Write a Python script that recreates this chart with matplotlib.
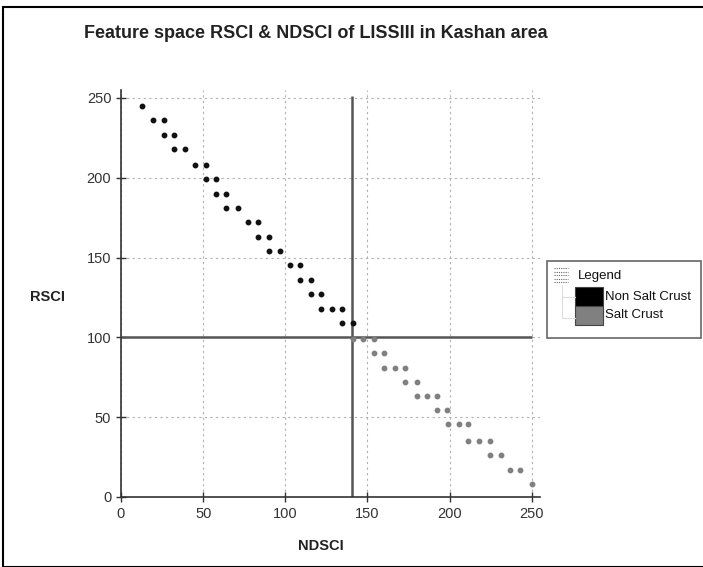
import matplotlib.pyplot as plt
from matplotlib.patches import Rectangle
from matplotlib.lines import Line2D

# non salt crust points (NDSCI, RSCI)
ns_ndsci = [13, 19.5, 26, 26, 32, 32, 39, 45, 52, 52, 58, 58, 64, 64, 71,
            77, 83.5, 83.5, 90, 90, 96.5, 103, 109, 109, 115.5, 115.5, 122,
            122, 128.5, 134.5, 134.5, 141]
ns_rsci = [245, 236, 236, 227, 227, 218, 218, 208, 208, 199, 199, 190, 190, 181, 181,
           172, 172, 163, 163, 154, 154, 145, 145, 136, 136, 127, 127,
           118, 118, 118, 109, 109]

# salt crust points
sc_ndsci = [141, 147.5, 154, 154, 160, 160, 166.5, 173, 173, 180, 180, 186, 192.5,
            192.5, 198.5, 199, 205.5, 211.5, 211.5, 218, 224.5, 224.5, 231,
            237, 243, 250]
sc_rsci = [99, 99, 99, 90, 90, 81, 81, 81, 72, 72, 63, 63, 63,
           54.5, 54.5, 46, 46, 46, 35, 35, 35, 26, 26,
           17, 17, 8]

ndsci_cut = 140.5
rsci_cut = 100
ticks = [0, 50, 100, 150, 200, 250]
legend_labels = ['Non Salt Crust', 'Salt Crust']
legend_colors = ['#000000', '#808080']

W, H = 703, 567

def px(x, y):
    # pixel position (from top left) -> figure fraction
    return x / W, 1 - y / H

plt.rcParams['font.family'] = ['Liberation Sans', 'DejaVu Sans']

fig = plt.figure(figsize=(W / 100, H / 100), dpi=100)
fig.patches.append(Rectangle(px(3, 567), 1.0, 1 - 7 / H, transform=fig.transFigure,
                             fill=False, edgecolor='black', linewidth=1.5))

ax = fig.add_axes([0.1721, 0.1235, 0.596, 0.718])
ax.set_xlim(0, 255)
ax.set_ylim(0, 255)
ax.set_xticks(ticks)
ax.set_yticks(ticks)
ax.grid(True, linestyle=(0, (2, 3)), color='#b0b0b0', linewidth=0.8)
for s in ['top', 'right']:
    ax.spines[s].set_visible(False)
for s in ['bottom', 'left']:
    ax.spines[s].set_color('#333333')
    ax.spines[s].set_linewidth(1.2)
ax.tick_params(direction='inout', length=7, width=1, colors='#333333',
               labelsize=10.5, labelcolor='#333333')

ax.vlines(ndsci_cut, 0, 251, color='#555555', linewidth=1.8)
ax.hlines(rsci_cut, 0, 250, color='#555555', linewidth=1.8)

ax.plot(ns_ndsci, ns_rsci, 'o', color='#111111', markersize=3.2, linestyle='none')
ax.plot(sc_ndsci, sc_rsci, 'o', color='#808080', markersize=3.2, linestyle='none')

fig.text(*px(84, 33), 'Feature space RSCI & NDSCI of LISSIII in Kashan area',
         fontsize=13, fontweight='bold', ha='left', va='center', color='#222222')
fig.text(*px(321, 546), 'NDSCI', fontsize=10.5, fontweight='bold', ha='center',
         va='center', color='#222222')
fig.text(*px(30, 297), 'RSCI', fontsize=10.5, fontweight='bold', ha='left',
         va='center', color='#222222')

# legend drawn by hand: box, small icon, title, tree line, swatches
x0, y0 = px(547, 338)
x1, y1 = px(701, 261)
fig.patches.append(Rectangle((x0, y0), x1 - x0, y1 - y0, transform=fig.transFigure,
                             fill=False, edgecolor='#666666', linewidth=1.2))
for k in range(5):
    fig.add_artist(Line2D([554 / W, 568 / W], [1 - (268 + 3.5 * k) / H] * 2,
                          transform=fig.transFigure, color='#666666', linewidth=0.8,
                          linestyle=(0, (1, 1))))
fig.add_artist(Line2D([562 / W, 562 / W, 575 / W], [1 - 285 / H, 1 - 318 / H, 1 - 318 / H],
                      transform=fig.transFigure, color='#dddddd', linewidth=0.8))
fig.add_artist(Line2D([562 / W, 575 / W], [1 - 297 / H] * 2,
                      transform=fig.transFigure, color='#dddddd', linewidth=0.8))
fig.text(*px(578, 276), 'Legend', fontsize=9.5, ha='left', va='center', color='#111111')
for i, (lab, col) in enumerate(zip(legend_labels, legend_colors)):
    top = 287 + 19 * i
    sx, sy = px(575, top + 19)
    fig.patches.append(Rectangle((sx, sy), 28 / W, 19 / H, transform=fig.transFigure,
                                 facecolor=col, edgecolor='#444444', linewidth=0.8))
    fig.text(*px(605, top + 9.5), lab, fontsize=9.5, ha='left', va='center',
             color='#111111')

fig.savefig('out.png', dpi=100)
